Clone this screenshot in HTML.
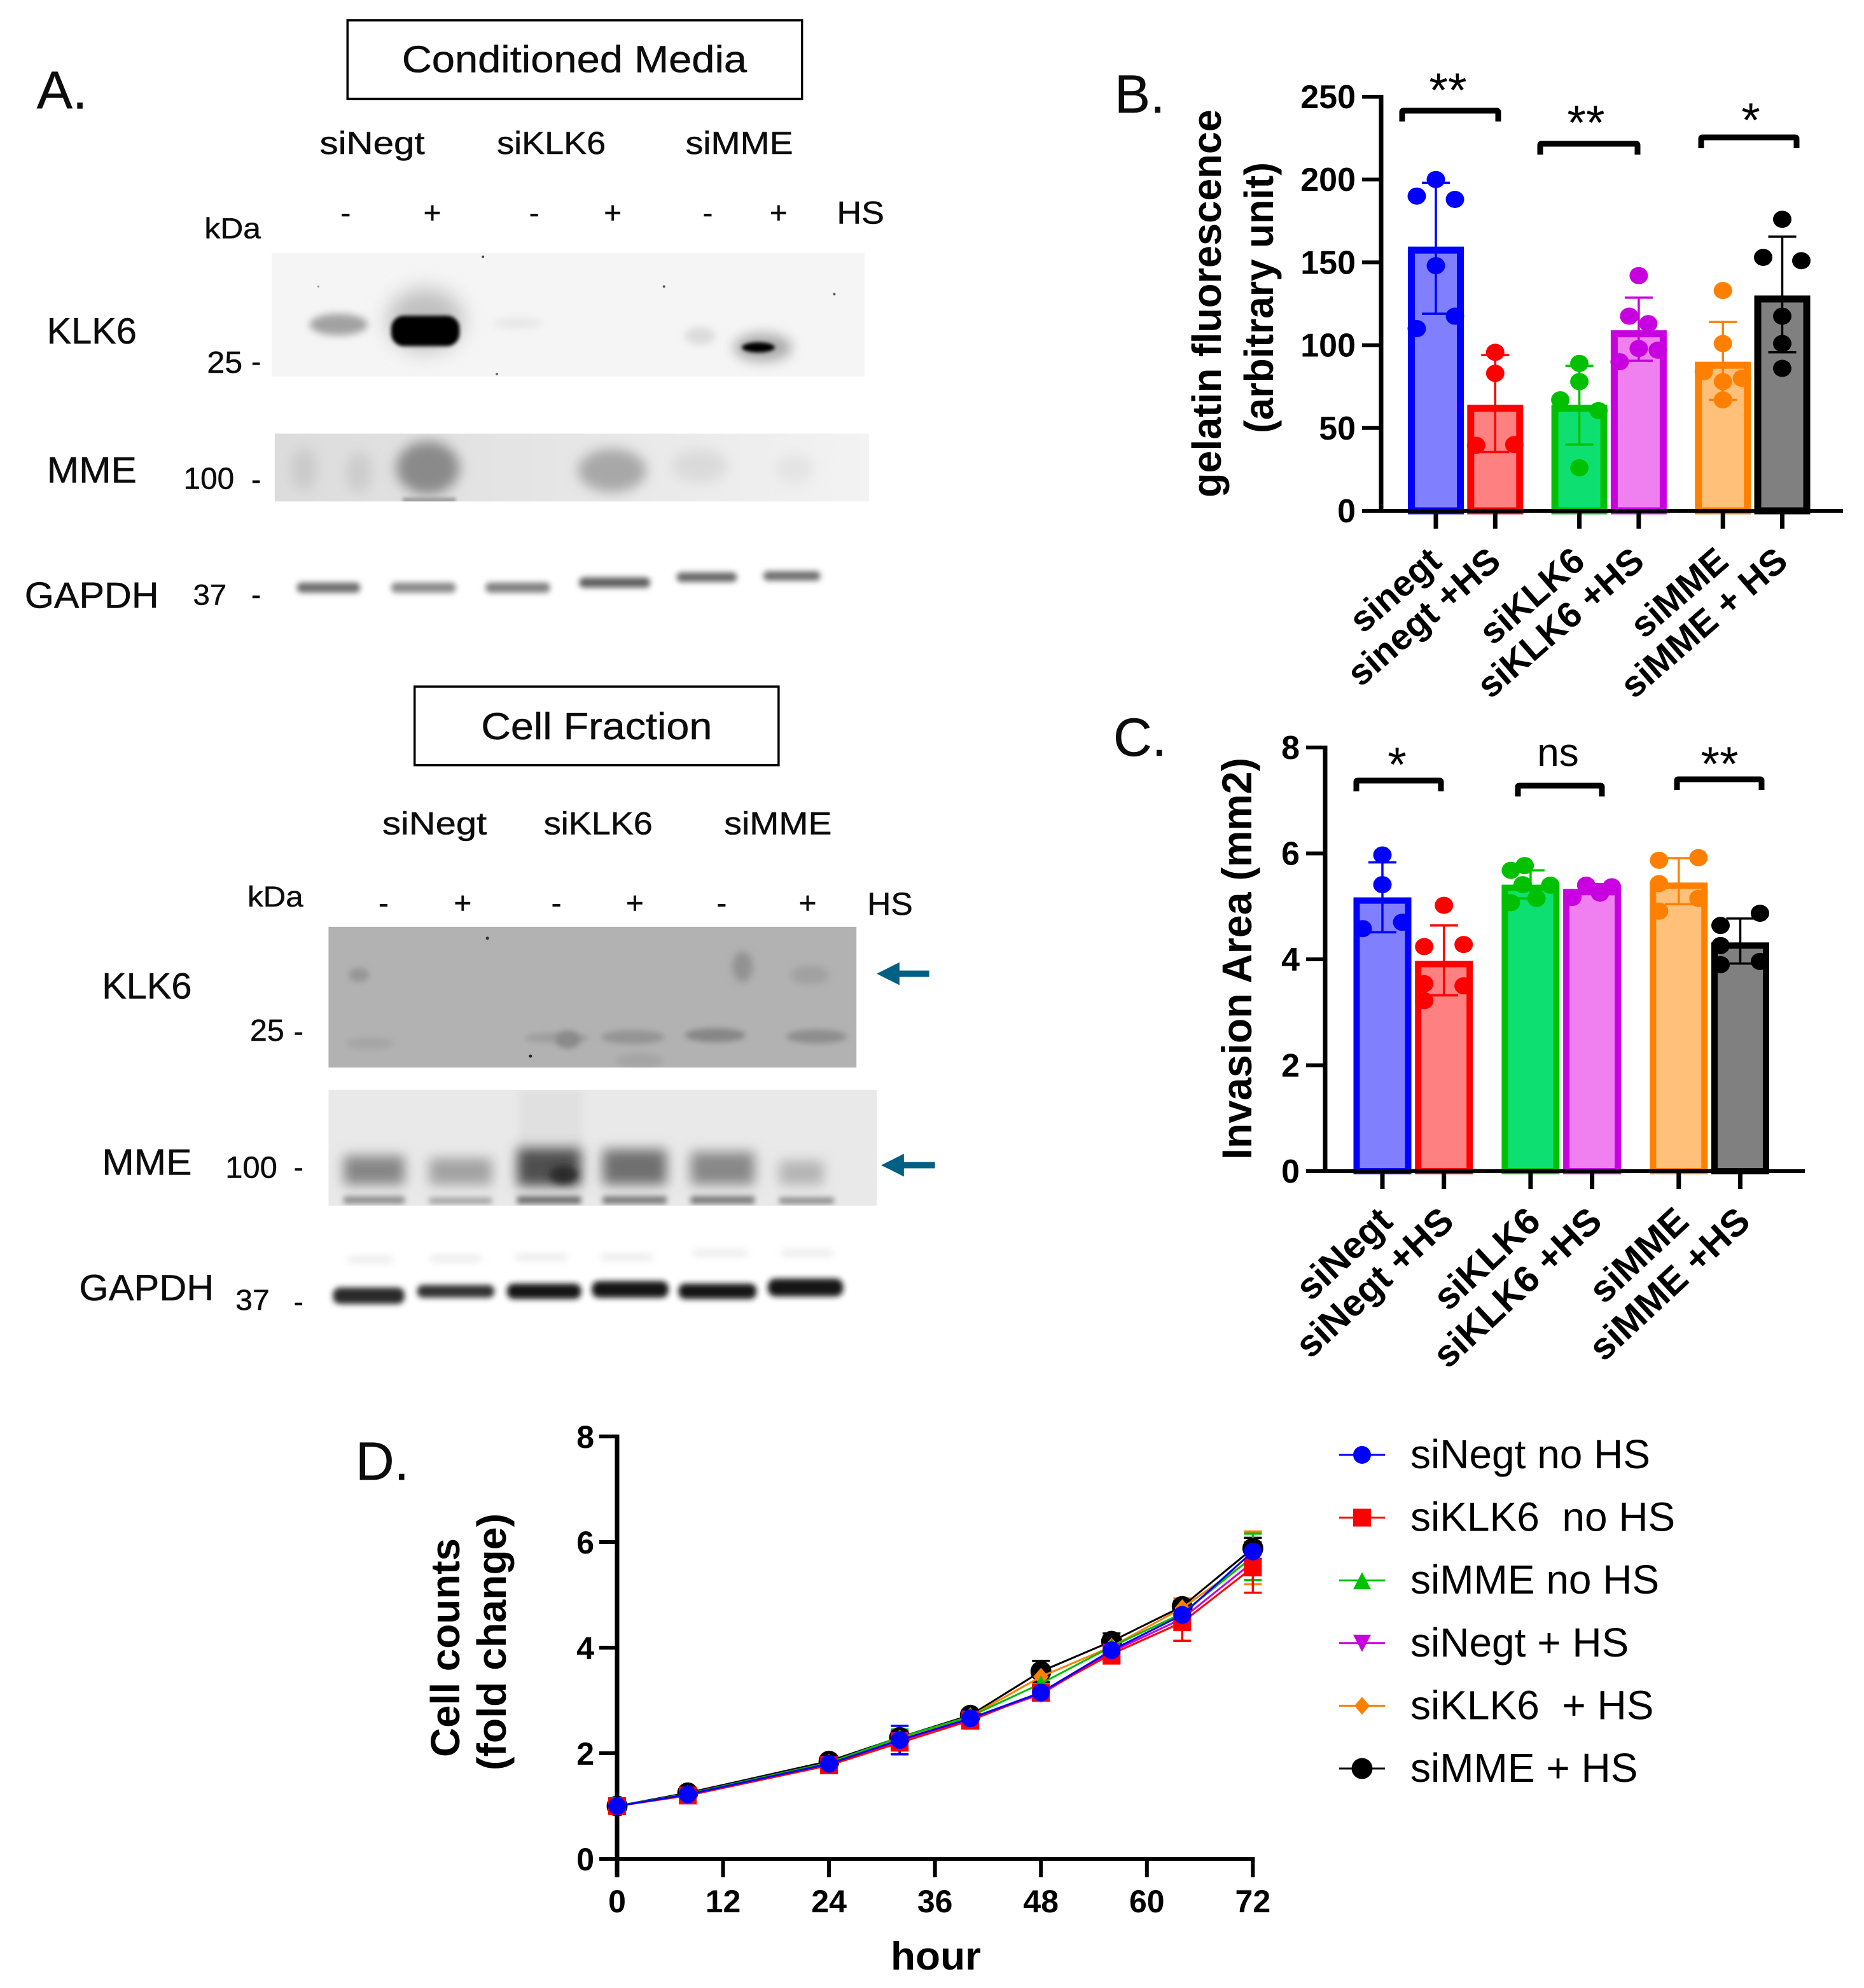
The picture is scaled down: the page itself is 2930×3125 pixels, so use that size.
<!DOCTYPE html>
<html lang="en"><head><meta charset="utf-8"><title>Western blots and functional assays</title>
<style>
html,body{margin:0;padding:0;background:#fff}
svg{display:block}
text{font-family:"Liberation Sans",sans-serif;fill:#000}
.w{fill:#0c0c0c;stroke:#0c0c0c;stroke-width:.5}
</style></head><body>
<svg id="fig" xmlns="http://www.w3.org/2000/svg" width="2930" height="3125" viewBox="0 0 2930 3125">
<defs>
<filter id="b3" x="-50%" y="-100%" width="200%" height="300%"><feGaussianBlur stdDeviation="3"/></filter>
<filter id="b4" x="-50%" y="-100%" width="200%" height="300%"><feGaussianBlur stdDeviation="4.5"/></filter>
<filter id="b6" x="-50%" y="-100%" width="200%" height="300%"><feGaussianBlur stdDeviation="6"/></filter>
<filter id="b10" x="-50%" y="-100%" width="200%" height="300%"><feGaussianBlur stdDeviation="10"/></filter>
<filter id="b16" x="-60%" y="-100%" width="220%" height="300%"><feGaussianBlur stdDeviation="16"/></filter>
<linearGradient id="mmeBg" x1="0" x2="1" y1="0" y2="0"><stop offset="0" stop-color="#dcdcdc"/><stop offset="0.5" stop-color="#e6e6e6"/><stop offset="1" stop-color="#f3f3f3"/></linearGradient>
<clipPath id="c1"><rect x="429" y="399" width="937" height="195"/></clipPath>
<clipPath id="c2"><rect x="434" y="684" width="939" height="107"/></clipPath>
<clipPath id="c3"><rect x="519" y="1459" width="834" height="222"/></clipPath>
<clipPath id="c4"><rect x="519" y="1716" width="866" height="183"/></clipPath>
</defs>

<g transform="translate(0,0) scale(0.995,0.9965)">
<text class="w" x="58" y="171" font-size="84" textLength="80" lengthAdjust="spacingAndGlyphs">A.</text>
<rect x="549" y="32" width="718" height="124" fill="#fff" stroke="#000" stroke-width="3.5"/>
<text class="w" x="635" y="114" font-size="60" textLength="545" lengthAdjust="spacingAndGlyphs">Conditioned Media</text>
<text class="w" x="505" y="243" font-size="50" textLength="166" lengthAdjust="spacingAndGlyphs">siNegt</text>
<text class="w" x="785" y="243" font-size="50" textLength="172" lengthAdjust="spacingAndGlyphs">siKLK6</text>
<text class="w" x="1083" y="243" font-size="50" textLength="170" lengthAdjust="spacingAndGlyphs">siMME</text>
<g font-size="48" text-anchor="middle">
<text class="w" x="546" y="352">-</text><text class="w" x="683" y="352">+</text><text class="w" x="844" y="352">-</text><text class="w" x="968" y="352">+</text><text class="w" x="1118" y="352">-</text><text class="w" x="1230" y="352">+</text>
</g>
<text class="w" x="1322" y="353" font-size="50" textLength="75" lengthAdjust="spacingAndGlyphs">HS</text>
<text class="w" x="323" y="376" font-size="46" textLength="89" lengthAdjust="spacingAndGlyphs">kDa</text>

<g>
<rect x="429" y="399" width="937" height="195" fill="#f5f5f5"/>
<g clip-path="url(#c1)">
<ellipse cx="535" cy="512" rx="46" ry="17" fill="#a2a2a2" filter="url(#b6)"/>
<ellipse cx="672" cy="505" rx="60" ry="50" fill="#c0c0c0" filter="url(#b16)"/>
<rect x="618" y="498" width="108" height="48" rx="20" fill="#000" filter="url(#b3)"/>
<ellipse cx="818" cy="510" rx="40" ry="8" fill="#e6e6e6" filter="url(#b6)"/>
<ellipse cx="1106" cy="530" rx="24" ry="14" fill="#dcdcdc" filter="url(#b6)"/>
<ellipse cx="1205" cy="548" rx="46" ry="22" fill="#aaa" filter="url(#b10)"/>
<ellipse cx="1198" cy="548" rx="26" ry="8" fill="#000" filter="url(#b3)"/>
<circle cx="763" cy="405" r="2" fill="#444"/><circle cx="1049" cy="452" r="2" fill="#555"/><circle cx="1318" cy="464" r="2" fill="#555"/><circle cx="785" cy="590" r="2" fill="#666"/><circle cx="503" cy="452" r="1.5" fill="#888"/>
</g></g>
<text class="w" x="74" y="542" font-size="58" textLength="142" lengthAdjust="spacingAndGlyphs">KLK6</text>
<text class="w" x="327" y="588" font-size="48" textLength="56" lengthAdjust="spacingAndGlyphs">25</text>
<text class="w" x="397" y="586" font-size="46">-</text>

<g>
<rect x="434" y="684" width="939" height="107" fill="url(#mmeBg)"/>
<g clip-path="url(#c2)">
<ellipse cx="480" cy="740" rx="20" ry="34" fill="#cacaca" filter="url(#b10)"/>
<ellipse cx="567" cy="745" rx="20" ry="32" fill="#cccccc" filter="url(#b10)"/>
<ellipse cx="676" cy="738" rx="50" ry="42" fill="#8a8a8a" filter="url(#b10)"/>
<rect x="636" y="785" width="84" height="8" fill="#999" filter="url(#b3)"/>
<ellipse cx="967" cy="742" rx="54" ry="34" fill="#a8a8a8" filter="url(#b10)"/>
<ellipse cx="1105" cy="735" rx="44" ry="26" fill="#dadada" filter="url(#b10)"/>
<ellipse cx="1255" cy="740" rx="30" ry="24" fill="#e4e4e4" filter="url(#b10)"/>
</g></g>
<text class="w" x="74" y="761" font-size="58" textLength="142" lengthAdjust="spacingAndGlyphs">MME</text>
<text class="w" x="290" y="771" font-size="48" textLength="80" lengthAdjust="spacingAndGlyphs">100</text>
<text class="w" x="397" y="772" font-size="46">-</text>

<g fill="#6e6e6e" filter="url(#b4)">
<rect x="469" y="919" width="100" height="16" rx="7"/><rect x="618" y="919" width="102" height="16" rx="7" fill="#8a8a8a"/><rect x="767" y="919" width="102" height="16" rx="7" fill="#808080"/><rect x="915" y="911" width="112" height="16" rx="7" fill="#5e5e5e"/><rect x="1069" y="903" width="95" height="15" rx="7" fill="#666"/><rect x="1206" y="901" width="90" height="15" rx="7" fill="#6e6e6e"/>
</g>
<text class="w" x="39" y="959" font-size="58" textLength="212" lengthAdjust="spacingAndGlyphs">GAPDH</text>
<text class="w" x="305" y="954" font-size="46" textLength="53" lengthAdjust="spacingAndGlyphs">37</text>
<text class="w" x="397" y="954" font-size="46">-</text>

<g transform="translate(0,3)">
<rect x="655" y="1080" width="575" height="124" fill="#fff" stroke="#000" stroke-width="3.5"/>
<text class="w" x="760" y="1163" font-size="60" textLength="365" lengthAdjust="spacingAndGlyphs">Cell Fraction</text>
<text class="w" x="604" y="1313" font-size="50" textLength="165" lengthAdjust="spacingAndGlyphs">siNegt</text>
<text class="w" x="859" y="1313" font-size="50" textLength="172" lengthAdjust="spacingAndGlyphs">siKLK6</text>
<text class="w" x="1144" y="1313" font-size="50" textLength="170" lengthAdjust="spacingAndGlyphs">siMME</text>
<text class="w" x="391" y="1427" font-size="46" textLength="88" lengthAdjust="spacingAndGlyphs">kDa</text>
<g font-size="48" text-anchor="middle">
<text class="w" x="606" y="1438">-</text><text class="w" x="731" y="1438">+</text><text class="w" x="879" y="1438">-</text><text class="w" x="1003" y="1438">+</text><text class="w" x="1140" y="1438">-</text><text class="w" x="1276" y="1438">+</text>
</g>
<text class="w" x="1370" y="1440" font-size="50" textLength="72" lengthAdjust="spacingAndGlyphs">HS</text>

<g>
<rect x="519" y="1459" width="834" height="222" fill="#b2b2b2"/>
<g clip-path="url(#c3)">
<ellipse cx="567" cy="1535" rx="16" ry="11" fill="#969696" filter="url(#b4)"/>
<ellipse cx="1173" cy="1522" rx="16" ry="24" fill="#929292" filter="url(#b6)"/>
<ellipse cx="1279" cy="1535" rx="30" ry="15" fill="#a0a0a0" filter="url(#b6)"/>
<ellipse cx="585" cy="1643" rx="38" ry="10" fill="#a6a6a6" filter="url(#b4)"/>
<ellipse cx="880" cy="1634" rx="52" ry="8" fill="#9e9e9e" filter="url(#b4)"/>
<ellipse cx="897" cy="1637" rx="20" ry="14" fill="#8a8a8a" filter="url(#b4)"/>
<ellipse cx="1000" cy="1633" rx="50" ry="11" fill="#949494" filter="url(#b4)"/>
<ellipse cx="1010" cy="1670" rx="38" ry="12" fill="#a6a6a6" filter="url(#b4)"/>
<ellipse cx="1130" cy="1630" rx="48" ry="11" fill="#868686" filter="url(#b4)"/>
<ellipse cx="1290" cy="1632" rx="48" ry="11" fill="#8e8e8e" filter="url(#b4)"/>
<circle cx="770" cy="1477" r="2.5" fill="#333"/><circle cx="838" cy="1663" r="2.5" fill="#222"/>
</g></g>
<text class="w" x="161" y="1572" font-size="58" textLength="142" lengthAdjust="spacingAndGlyphs">KLK6</text>
<text class="w" x="395" y="1639" font-size="48" textLength="54" lengthAdjust="spacingAndGlyphs">25</text>
<text class="w" x="464" y="1640" font-size="46">-</text>
<path d="M1385 1533 L1421 1515 L1421 1528 L1468 1528 L1468 1538 L1421 1538 L1421 1551 Z" fill="#005f85"/>

<g>
<rect x="519" y="1716" width="866" height="183" fill="#e9e9e9"/>
<g clip-path="url(#c4)">
<rect x="820" y="1716" width="100" height="90" fill="#e0e0e0" filter="url(#b6)"/>
<g filter="url(#b10)">
<rect x="543" y="1820" width="96" height="46" fill="#868686"/><rect x="678" y="1824" width="99" height="42" fill="#a2a2a2"/><rect x="817" y="1808" width="101" height="60" fill="#505050"/><rect x="952" y="1810" width="101" height="56" fill="#707070"/><rect x="1091" y="1814" width="101" height="52" fill="#888"/><rect x="1231" y="1828" width="70" height="38" fill="#b4b4b4"/>
</g>
<g filter="url(#b4)" fill="#8c8c8c">
<rect x="543" y="1884" width="96" height="12"/><rect x="678" y="1886" width="99" height="10" fill="#a0a0a0"/><rect x="817" y="1884" width="101" height="12" fill="#6a6a6a"/><rect x="952" y="1884" width="101" height="12" fill="#777"/><rect x="1091" y="1884" width="101" height="12" fill="#777"/><rect x="1231" y="1886" width="86" height="10" fill="#888"/>
</g>
<ellipse cx="890" cy="1850" rx="22" ry="14" fill="#2c2c2c" filter="url(#b6)"/>
</g></g>
<text class="w" x="161" y="1850" font-size="58" textLength="142" lengthAdjust="spacingAndGlyphs">MME</text>
<text class="w" x="356" y="1855" font-size="48" textLength="82" lengthAdjust="spacingAndGlyphs">100</text>
<text class="w" x="464" y="1854" font-size="46">-</text>
<path d="M1392 1835 L1428 1817 L1428 1830 L1477 1830 L1477 1840 L1428 1840 L1428 1853 Z" fill="#005f85"/>

<g>
<g fill="#e4e4e4" filter="url(#b6)"><rect x="550" y="1980" width="70" height="8"/><rect x="680" y="1978" width="80" height="8"/><rect x="815" y="1976" width="80" height="8"/><rect x="950" y="1976" width="80" height="8"/><rect x="1095" y="1970" width="85" height="8"/><rect x="1235" y="1970" width="80" height="8"/></g>
<g fill="#161616" filter="url(#b4)"><rect x="526" y="2028" width="113" height="26" rx="11" fill="#2a2a2a"/><rect x="659" y="2024" width="122" height="20" rx="9" fill="#333"/><rect x="801" y="2022" width="117" height="24" rx="10"/><rect x="935" y="2018" width="121" height="26" rx="11"/><rect x="1072" y="2022" width="123" height="24" rx="10"/><rect x="1213" y="2014" width="119" height="28" rx="12"/></g>
</g>
<text class="w" x="125" y="2048" font-size="58" textLength="213" lengthAdjust="spacingAndGlyphs">GAPDH</text>
<text class="w" x="372" y="2063" font-size="46" textLength="54" lengthAdjust="spacingAndGlyphs">37</text>
<text class="w" x="464" y="2066" font-size="46">-</text>
</g>
</g>

<text class="w" x="1752" y="177" font-size="84">B.</text>
<text class="w" x="1750" y="1188" font-size="84">C.</text>
<text class="w" x="559" y="2326" font-size="84">D.</text>
<g id="chartB"></g>
<g id="chartC"></g>
<g id="chartD"></g>
</svg>

<script>
// ---- Panel B data ----
const bCategories = ['sinegt','sinegt +HS','siKLK6','siKLK6 +HS','siMME','siMME + HS'];
const bTicks = [0,50,100,150,200,250];
const bValues = [159.5,64,64,109,90,130];
const bErrHigh = [198,94,87.5,128.7,114,165.5];
const bErrLow = [119,35.5,40,90.6,67,95.7];
const bPoints = [[200,190,188,148,117.5,110],[95.7,83,39.5,40],[89,78,67,60.5,26],[142,117.5,113,98,97,90],[133,101,84,80,78,67],[176,153,151,117.5,101,86]];
const bLanes = [[0,-1,1,0,1,-1],[0,0,-1,1],[0,0,-1,1,0],[0,-0.5,0.5,0,1,-1],[0,0,-1,1,0,0],[0,-1,1,0,0,0]];
const bSigLabels = ['**','**','*'];

// ---- Panel C data ----
const cCategories = ['siNegt','siNegt +HS','siKLK6','siKLK6 +HS','siMME','siMME +HS'];
const cTicks = [0,2,4,6,8];
const cValues = [5.17,3.97,5.41,5.33,5.45,4.32];
const cErrHigh = [5.83,4.64,5.68,5.42,5.91,4.77];
const cErrLow = [4.51,3.32,5.15,5.25,5.04,3.92];
const cPoints = [[5.97,5.41,4.70,4.58],[5.02,4.24,4.28,3.54,3.5,3.22],[5.68,5.77,5.41,5.40,5.15,5.07],[5.17,5.40,5.25,5.37],[5.87,5.92,5.43,5.15,4.91],[4.87,4.64,4.26,3.9,3.96]];
const cLanes = [[0,0,1,-1],[0,-1,1,-1,1,-1],[-1,-0.3,-0.4,1,0.3,-1],[-1,-0.3,0.4,1],[-1,1,-1,1,-1],[1,-1,-1,-1,1]];
const cSigLabels = ['*','ns','**'];

// ---- Panel D data ----
const dHours = [0,8,24,32,40,48,56,64,72];
const dXTicks = [0,12,24,36,48,60,72];
const dYTicks = [0,2,4,6,8];
const dNames = ['siNegt no HS','siKLK6  no HS','siMME no HS','siNegt + HS','siKLK6  + HS','siMME + HS'];
const siNegtNoHS = [1,1.22,1.8,2.25,2.66,3.15,3.95,4.62,5.82];
const siKLK6NoHS = [1,1.2,1.77,2.2,2.62,3.15,3.88,4.48,5.52];
const siMMENoHS = [1,1.23,1.82,2.3,2.7,3.32,4.02,4.65,5.72];
const siNegtHS = [1,1.21,1.79,2.24,2.65,3.12,3.92,4.55,5.62];
const siKLK6HS = [1,1.23,1.82,2.28,2.7,3.45,4.02,4.75,5.7];
const siMMEHS = [1,1.25,1.85,2.3,2.72,3.55,4.12,4.78,5.88];
const siNegtNoHSErr = [0,.03,.05,.27,.15,.15,.2,.1,.15];
const siKLK6NoHSErr = [0,.05,.08,.22,.15,.12,.18,.35,.48];
const siMMENoHSErr = [0,.03,.05,.15,.08,.15,.15,.1,.44];
const siNegtHSErr = [0,.03,.05,.15,.1,.12,.1,.1,.15];
const siKLK6HSErr = [0,.03,.05,.1,.08,.18,.1,.18,.5];
const siMMEHSErr = [0,.03,.05,.1,.08,.2,.15,.1,.2];

const NS = 'http://www.w3.org/2000/svg';
const fillColors = ['#8080ff','#ff8080','#0de070','#f080f0','#ffc07a','#808080'];
const strokeColors = ['#0000ff','#ff0000','#00c000','#c800e0','#ff8000','#000000'];

function mk(parent, tag, attrs, txt){
  const e = document.createElementNS(NS, tag);
  for (const k in attrs) e.setAttribute(k, attrs[k]);
  if (txt !== undefined) e.textContent = txt;
  parent.appendChild(e);
  return e;
}

function drawBars(root, o){
  const y = v => o.y0 - v * (o.y0 - o.yTop) / o.yMax;
  const x = i => o.xStart + o.step * i + o.gap * Math.floor(i / 2);
  const sw = o.barStroke;

  o.values.forEach((v, i) => {
    const bar = mk(root, 'rect', {x: x(i) - o.barW/2 + sw/2, y: y(v) + sw/2, width: o.barW - sw, height: o.y0 - y(v) - sw/2, fill: fillColors[i], stroke: strokeColors[i], 'stroke-width': sw});
    
    

    const err = mk(root, 'path', {d: `M${x(i)} ${y(o.errHigh[i])}V${y(o.errLow[i])}M${x(i)-o.cap/2} ${y(o.errHigh[i])}h${o.cap}M${x(i)-o.cap/2} ${y(o.errLow[i])}h${o.cap}`, fill: 'none', stroke: strokeColors[i], 'stroke-width': 3.5});
    
    

    o.points[i].forEach((p, j) => {
      const dot = mk(root, 'ellipse', {cx: x(i) + o.lanes[i][j] * o.laneW, cy: y(p), rx: 14.5, ry: 13.5, fill: strokeColors[i]});
      
      
    });
  });

  const yAxis = mk(root, 'line', {x1: o.xAxis, x2: o.xAxis, y1: o.yTop - 3, y2: o.y0 + 3, stroke: '#000', 'stroke-width': 7});
  
  
  const xAxis = mk(root, 'line', {x1: o.xAxis - 30, x2: o.xEnd, y1: o.y0, y2: o.y0, stroke: '#000', 'stroke-width': 6});
  
  

  o.ticks.forEach(t => {
    const tk = mk(root, 'line', {x1: o.xAxis - 30, x2: o.xAxis, y1: y(t), y2: y(t), stroke: '#000', 'stroke-width': 6});
    
    
    const lb = mk(root, 'text', {x: o.xAxis - 40, y: y(t) + 18, 'text-anchor': 'end', 'font-size': 52, 'font-weight': 'bold'}, t);
    
    
  });

  o.categories.forEach((c, i) => {
    const tk = mk(root, 'line', {x1: x(i), x2: x(i), y1: o.y0, y2: o.y0 + 28, stroke: '#000', 'stroke-width': 7});
    
    
    const px = x(i) + o.labelDx, py = o.y0 + o.labelDy;
    const lb = mk(root, 'text', {x: px, y: py, 'text-anchor': 'end', 'font-size': o.labelSize, 'font-weight': 'bold', transform: `rotate(${o.labelAngle} ${px} ${py})`}, c);
    
    
  });

  o.brackets.forEach((b, i) => {
    const br = mk(root, 'path', {d: `M${b.x1} ${b.y + 21}V${b.y + 6}q0 -2 2 -2H${b.x2 - 2}q2 0 2 2V${b.y + 21}`, fill: 'none', stroke: '#000', 'stroke-width': 9});
    
    
    const isNs = o.sig[i] === 'ns';
    const lb = mk(root, 'text', {x: b.labelX, y: b.labelY, 'text-anchor': 'middle', 'font-size': isNs ? 62 : 76}, o.sig[i]);
    
    
  });
}

const rootB = document.getElementById('chartB');
drawBars(rootB, {y0: 803, yTop: 152, yMax: 250, xStart: 2257, step: 93.3, gap: 39, barW: 88, barStroke: 11, cap: 44, laneW: 30, xAxis: 2171, xEnd: 2897, ticks: bTicks, values: bValues, errHigh: bErrHigh, errLow: bErrLow, points: bPoints, lanes: bLanes, categories: bCategories, labelDx: 12, labelDy: 84, labelSize: 57, labelAngle: -41, sig: bSigLabels,
  brackets: [{x1: 2204, x2: 2355, y: 170, labelX: 2276, labelY: 168}, {x1: 2421, x2: 2574, y: 222, labelX: 2493, labelY: 219}, {x1: 2674, x2: 2824, y: 212, labelX: 2752, labelY: 215}]});
const titleB1 = mk(rootB, 'text', {x: 0, y: 0, transform: 'translate(1919 477) rotate(-90)', 'text-anchor': 'middle', 'font-size': 64, 'font-weight': 'bold', textLength: 610, lengthAdjust: 'spacingAndGlyphs'}, 'gelatin fluorescence');


const titleB2 = mk(rootB, 'text', {x: 0, y: 0, transform: 'translate(2001 468) rotate(-90)', 'text-anchor': 'middle', 'font-size': 64, 'font-weight': 'bold', textLength: 426, lengthAdjust: 'spacingAndGlyphs'}, '(arbitrary unit)');



const rootC = document.getElementById('chartC');
drawBars(rootC, {y0: 1841, yTop: 1175, yMax: 8, xStart: 2173, step: 96.7, gap: 39.5, barW: 91, barStroke: 10, cap: 44, laneW: 31, xAxis: 2083, xEnd: 2837, ticks: cTicks, values: cValues, errHigh: cErrHigh, errLow: cErrLow, points: cPoints, lanes: cLanes, categories: cCategories, labelDx: 19, labelDy: 83, labelSize: 59, labelAngle: -43, sig: cSigLabels,
  brackets: [{x1: 2132, x2: 2265, y: 1223, labelX: 2196, labelY: 1228}, {x1: 2386, x2: 2518, y: 1231, labelX: 2449, labelY: 1204}, {x1: 2636, x2: 2769, y: 1221, labelX: 2703, labelY: 1227}]});
const titleC = mk(rootC, 'text', {x: 0, y: 0, transform: 'translate(1967 1507) rotate(-90)', 'text-anchor': 'middle', 'font-size': 66, 'font-weight': 'bold', textLength: 632, lengthAdjust: 'spacingAndGlyphs'}, 'Invasion Area (mm2)');



// ---- Panel D ----
const rootD = document.getElementById('chartD');
const dY = v => 2922 - v * 83;
const dX = h => 970 + h * 13.88;
const dSeries = [siNegtNoHS, siKLK6NoHS, siMMENoHS, siNegtHS, siKLK6HS, siMMEHS];
const dErr = [siNegtNoHSErr, siKLK6NoHSErr, siMMENoHSErr, siNegtHSErr, siKLK6HSErr, siMMEHSErr];
const dOrder = [5, 4, 2, 3, 1, 0];

function marker(parent, s, cx, cy){
  const c = strokeColors[s];
  if (s === 0) return mk(parent, 'circle', {cx: cx, cy: cy, r: 14, fill: c});
  if (s === 5) return mk(parent, 'circle', {cx: cx, cy: cy, r: 16.5, fill: c});
  if (s === 1) return mk(parent, 'rect', {x: cx - 14, y: cy - 14, width: 28, height: 28, fill: c});
  if (s === 2) return mk(parent, 'path', {d: `M${cx} ${cy - 13}L${cx + 14} ${cy + 14}H${cx - 14}Z`, fill: c});
  if (s === 3) return mk(parent, 'path', {d: `M${cx} ${cy + 14}L${cx + 14} ${cy - 13}H${cx - 14}Z`, fill: c});
  return mk(parent, 'path', {d: `M${cx} ${cy - 14}L${cx + 12} ${cy}L${cx} ${cy + 14}L${cx - 12} ${cy}Z`, fill: c});
}

const dYAxis = mk(rootD, 'line', {x1: 970, x2: 970, y1: dY(8) - 3, y2: 2951, stroke: '#000', 'stroke-width': 7});


const dXAxis = mk(rootD, 'line', {x1: 942, x2: dX(72) + 3, y1: 2922, y2: 2922, stroke: '#000', 'stroke-width': 6});



dYTicks.forEach(t => {
  const tk = mk(rootD, 'line', {x1: 942, x2: 970, y1: dY(t), y2: dY(t), stroke: '#000', 'stroke-width': 6});
  
  
  const lb = mk(rootD, 'text', {x: 934, y: dY(t) + 18, 'text-anchor': 'end', 'font-size': 50, 'font-weight': 'bold'}, t);
  
  
});
dXTicks.forEach(t => {
  const tk = mk(rootD, 'line', {x1: dX(t), x2: dX(t), y1: 2922, y2: 2951, stroke: '#000', 'stroke-width': 6});
  
  
  const lb = mk(rootD, 'text', {x: dX(t), y: 3006, 'text-anchor': 'middle', 'font-size': 50, 'font-weight': 'bold'}, t);
  
  
});

dOrder.forEach(s => {
  dHours.forEach((h, i) => {
    const v = dSeries[s][i], e = dErr[s][i];
    if (e > 0) {
      const eb = mk(rootD, 'path', {d: `M${dX(h)} ${dY(v + e)}V${dY(v - e)}M${dX(h) - 14} ${dY(v + e)}h28M${dX(h) - 14} ${dY(v - e)}h28`, fill: 'none', stroke: strokeColors[s], 'stroke-width': 3.5});
      
      
    }
  });
});
dOrder.forEach(s => {
  const ln = mk(rootD, 'polyline', {points: dHours.map((h, i) => dX(h) + ',' + dY(dSeries[s][i])).join(' '), fill: 'none', stroke: strokeColors[s], 'stroke-width': 3});
  
  
  dHours.forEach((h, i) => {
    const m = marker(rootD, s, dX(h), dY(dSeries[s][i]));
    
    
  });
});

dNames.forEach((name, s) => {
  const ly = 2287 + s * 98.6;
  const ll = mk(rootD, 'line', {x1: 2105, x2: 2177, y1: ly, y2: ly, stroke: strokeColors[s], 'stroke-width': 3});
  
  
  const lm = marker(rootD, s, 2141, ly);
  
  
  const lt = mk(rootD, 'text', {x: 2217, y: ly + 21, 'font-size': 64, 'xml:space': 'preserve', style: 'white-space:pre'}, name);
  
  
});

const titleD1 = mk(rootD, 'text', {x: 0, y: 0, transform: 'translate(722 2590) rotate(-90)', 'text-anchor': 'middle', 'font-size': 64, 'font-weight': 'bold', textLength: 344, lengthAdjust: 'spacingAndGlyphs'}, 'Cell counts');


const titleD2 = mk(rootD, 'text', {x: 0, y: 0, transform: 'translate(795 2581) rotate(-90)', 'text-anchor': 'middle', 'font-size': 64, 'font-weight': 'bold', textLength: 404, lengthAdjust: 'spacingAndGlyphs'}, '(fold change)');


const xTitleD = mk(rootD, 'text', {x: 1471, y: 3096, 'text-anchor': 'middle', 'font-size': 62, 'font-weight': 'bold', textLength: 142, lengthAdjust: 'spacingAndGlyphs'}, 'hour');


</script>
</body></html>
